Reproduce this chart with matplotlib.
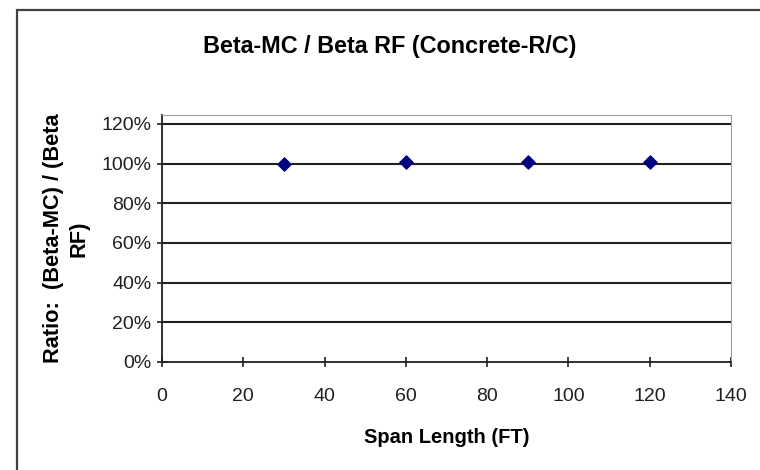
import matplotlib.pyplot as plt
from matplotlib.patches import Rectangle
from matplotlib.ticker import PercentFormatter

plt.rcParams['font.family'] = ['Liberation Sans', 'DejaVu Sans']

# Span length (ft) and the ratio Beta-MC / Beta RF
span_ft = [30, 60, 90, 120]
ratio = [1.00, 1.01, 1.01, 1.01]

y_ticks = [0, 0.2, 0.4, 0.6, 0.8, 1.0, 1.2]
x_ticks = [0, 20, 40, 60, 80, 100, 120, 140]

fig = plt.figure(figsize=(7.6, 4.7), dpi=100)
ax = fig.add_axes([0.2132, 0.2298, 0.7486, 0.5255])

# chart frame around the whole figure
fig.patches.append(Rectangle((17 / 760, -0.1), 1.2, 0.1 + 1 - 10 / 470,
                             transform=fig.transFigure, fill=False,
                             edgecolor='#404040', linewidth=1.6))

ax.scatter(span_ft, ratio, marker='D', s=45, color='#000080', zorder=3)

ax.set_xlim(0, 140)
ax.set_ylim(0, 1.245)
ax.set_xticks(x_ticks)
ax.set_yticks(y_ticks)
ax.yaxis.set_major_formatter(PercentFormatter(1.0, decimals=0))

for y in y_ticks[1:]:
    ax.axhline(y, color='#202020', linewidth=1.5, zorder=1)

for side in ['top', 'right']:
    ax.spines[side].set_color('#a0a0a0')
for side in ['left', 'bottom']:
    ax.spines[side].set_color('#202020')
    ax.spines[side].set_linewidth(1.3)

ax.tick_params(axis='both', direction='inout', length=7, width=1.2,
               labelsize=14, colors='#202020')
ax.tick_params(axis='x', pad=15)
ax.tick_params(axis='y', pad=4)

fig.text(390 / 760, 1 - 47 / 470, 'Beta-MC / Beta RF (Concrete-R/C)',
         ha='center', va='center', fontsize=16.8, fontweight='bold')

ax.set_xlabel('Span Length (FT)', fontsize=14.5, fontweight='bold', labelpad=17)
ax.set_ylabel('Ratio:  (Beta-MC) / (Beta\nRF)', fontsize=15.7, fontweight='bold',
              labelpad=9, linespacing=1.25)

fig.savefig('out.png', dpi=100)
